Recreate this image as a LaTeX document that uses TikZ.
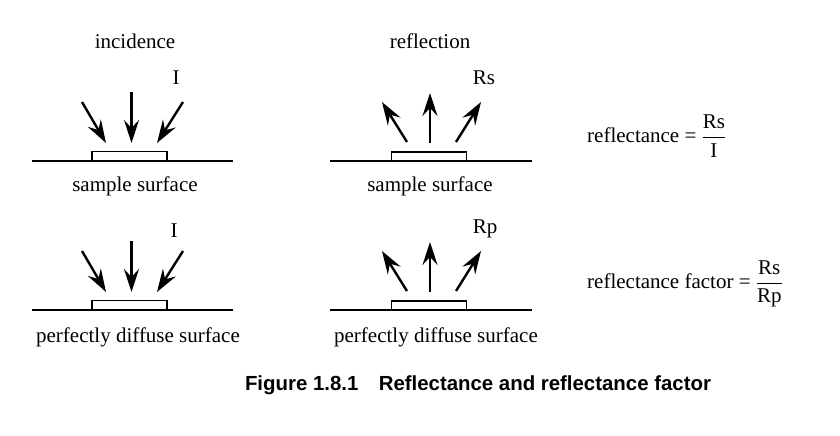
\documentclass[tikz,border=0pt]{standalone}
\usepackage{fontspec}
\setmainfont{Liberation Serif}
\newfontfamily\capfont{Liberation Sans}
\usetikzlibrary{arrows.meta}
\begin{document}
\begin{tikzpicture}[x=1pt,y=-1pt,
  lbl/.style={font=\fontsize{21}{24}\selectfont, inner sep=0pt},
  ray/.style={line width=2.4pt, -{Stealth[length=23pt,width=15pt,inset=8pt]}},
  surf/.style={line width=1.5pt},
  samp/.style={line width=1.5pt, draw, fill=white}]
\useasboundingbox (0,0) rectangle (840,436);

% ---------- column headers
\node[lbl] (hinc) at (135,41) {incidence};
\node[lbl] (hrefl) at (430,41) {reflection};

% top-left: incidence on sample
\begin{scope}
  \coordinate (tlL) at (32,161); \coordinate (tlR) at (233,161);
  \draw[surf] (tlL) -- (tlR);
  \draw[samp] (92,151.5) rectangle (167,161);
  \coordinate (a1s) at (82,102); \coordinate (a1e) at (106,143);
  \coordinate (a2s) at (131.5,92); \coordinate (a2e) at (131.5,143);
  \coordinate (a3s) at (183,102); \coordinate (a3e) at (157,143);
  \draw[ray] (a1s) -- (a1e);
  \draw[ray] (a2s) -- (a2e);
  \draw[ray] (a3s) -- (a3e);
  \node[lbl] (tlI) at (176,78) {I};
  \node[lbl] (tlS) at (135,186) {sample surface};
\end{scope}

% top-middle: reflection from sample
\begin{scope}
  \coordinate (tmL) at (330,161); \coordinate (tmR) at (532,161);
  \draw[surf] (tmL) -- (tmR);
  \draw[samp] (391.5,152) rectangle (466.5,161);
  \coordinate (b1s) at (407,142); \coordinate (b1e) at (382,102);
  \coordinate (b2s) at (430,143); \coordinate (b2e) at (430,93);
  \coordinate (b3s) at (456,142); \coordinate (b3e) at (481,102);
  \draw[ray] (b1s) -- (b1e);
  \draw[ray] (b2s) -- (b2e);
  \draw[ray] (b3s) -- (b3e);
  \node[lbl] (tmR2) at (484,78) {Rs};
  \node[lbl] (tmS) at (430,186) {sample surface};
\end{scope}

% bottom-left: incidence on diffuse
\begin{scope}[yshift=-149pt]
  \coordinate (blL) at (32,161); \coordinate (blR) at (233,161);
  \draw[surf] (blL) -- (blR);
  \draw[samp] (92,151.5) rectangle (167,161);
  \coordinate (c1s) at (82,102); \coordinate (c1e) at (106,143);
  \coordinate (c2s) at (131.5,92); \coordinate (c2e) at (131.5,143);
  \coordinate (c3s) at (183,102); \coordinate (c3e) at (157,143);
  \draw[ray] (c1s) -- (c1e);
  \draw[ray] (c2s) -- (c2e);
  \draw[ray] (c3s) -- (c3e);
  \node[lbl] (blI) at (174,82) {I};
  \node[lbl] (blS) at (138,188) {perfectly diffuse surface};
\end{scope}

% bottom-middle: reflection from diffuse
\begin{scope}[yshift=-149pt]
  \coordinate (bmL) at (330,161); \coordinate (bmR) at (532,161);
  \draw[surf] (bmL) -- (bmR);
  \draw[samp] (391.5,152) rectangle (466.5,161);
  \coordinate (d1s) at (407,142); \coordinate (d1e) at (382,102);
  \coordinate (d2s) at (430,143); \coordinate (d2e) at (430,93);
  \coordinate (d3s) at (456,142); \coordinate (d3e) at (481,102);
  \draw[ray] (d1s) -- (d1e);
  \draw[ray] (d2s) -- (d2e);
  \draw[ray] (d3s) -- (d3e);
  \node[lbl] (bmR2) at (485,80) {Rp};
  \node[lbl] (bmS) at (436,188) {perfectly diffuse surface};
\end{scope}

% ---------- formulas
\node[lbl, anchor=west] (f1) at (587,136) {reflectance = $\displaystyle\frac{\mbox{Rs}}{\mbox{I}}$};
\node[lbl, anchor=west] (f2) at (587,284) {reflectance factor = $\displaystyle\frac{\mbox{Rs}}{\mbox{Rp}}$};

% ---------- caption
\node[inner sep=0pt, font=\capfont\bfseries\fontsize{20.4}{23}\selectfont] (cap) at (478,385)
  {Figure 1.8.1\hspace{1em}Reflectance and reflectance factor};
\end{tikzpicture}
\end{document}
